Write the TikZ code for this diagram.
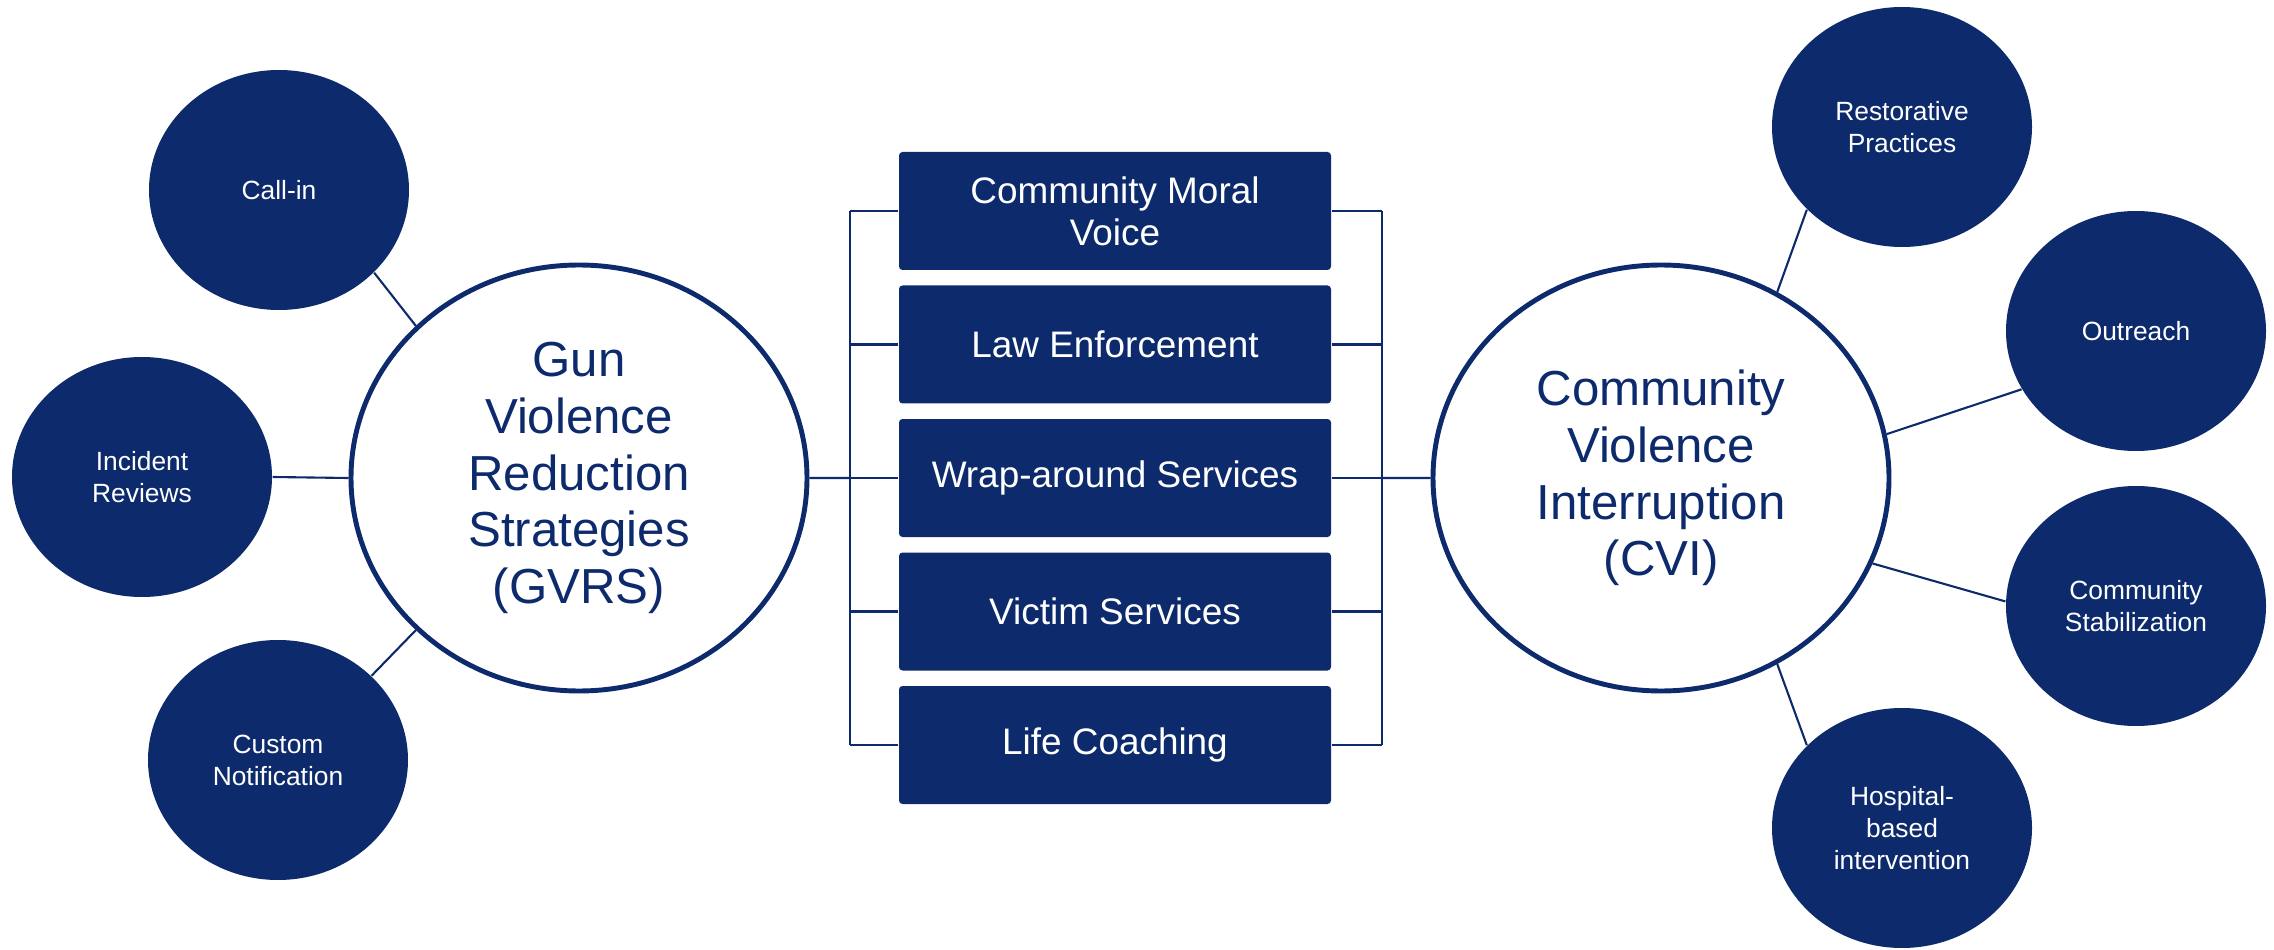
\documentclass[tikz,border=0pt]{standalone}
\usepackage{fontspec}
\setmainfont{Liberation Sans}
\usetikzlibrary{shapes.geometric}

\definecolor{navy}{RGB}{13,43,108}

\tikzset{
	hub/.style={ellipse, draw=navy, line width=1.4pt, fill=white, minimum width=4.56cm, minimum height=4.26cm, inner sep=0pt, align=center, text=navy, font=\fontsize{14}{16.1}\selectfont},
	leaf/.style={ellipse, fill=navy, minimum width=2.6cm, minimum height=2.4cm, inner sep=0pt, align=center, text=white, font=\fontsize{7.5}{9.1}\selectfont},
	block/.style={rectangle, rounded corners=1pt, fill=navy, minimum width=4.32cm, minimum height=1.18cm, inner sep=0pt, align=center, text=white, font=\fontsize{10.5}{12}\selectfont},
	link/.style={draw=navy, line width=0.6pt},
}

\begin{document}
\begin{tikzpicture}
	
	%--- Khung ---
	\useasboundingbox (0,0) rectangle (22.74,9.49);
	
	%--- Hai hình tròn lớn ---
	\node[hub] (gvrs) at (5.79,4.71) {Gun\\Violence\\Reduction\\Strategies\\(GVRS)};
	\node[hub] (cvi) at (16.61,4.71) {Community\\Violence\\Interruption\\(CVI)};
	
	%--- Bên trái ---
	\node[leaf] (callin) at (2.79,7.59) {Call-in};
	\node[leaf] (incident) at (1.42,4.72) {Incident\\Reviews};
	\node[leaf] (custom) at (2.78,1.89) {Custom\\Notification};
	
	\draw[link] (callin.-41) -- (gvrs.137);
	\draw[link] (incident.east) -- (gvrs.west);
	\draw[link] (custom.42) -- (gvrs.223);
	
	%--- Bên phải ---
	\node[leaf] (restorative) at (19.02,8.22) {Restorative\\Practices};
	\node[leaf] (outreach) at (21.36,6.18) {Outreach};
	\node[leaf] (stabilization) at (21.36,3.43) {Community\\Stabilization};
	\node[leaf] (hospital) at (19.02,1.21) {Hospital-\\based\\intervention};
	
	\draw[link] (cvi.58) -- (restorative.221);
	\draw[link] (cvi.11) -- (outreach.207);
	\draw[link] (cvi.-22) -- (stabilization.178);
	\draw[link] (cvi.-58) -- (hospital.139);
	
	%--- Các ô ở giữa ---
	\foreach \i/\txt in {1/{Community Moral\\Voice}, 2/{Law Enforcement}, 3/{Wrap-around Services}, 4/{Victim Services}, 5/{Life Coaching}} {
		\node[block] (b\i) at (11.15,{7.38-(\i-1)*1.335}) {\txt};
		\coordinate (lb\i) at ([xshift=-4.8mm]b\i.west);
		\coordinate (rb\i) at ([xshift=5mm]b\i.east);
		\draw[link] (b\i.west) -- (lb\i);
		\draw[link] (b\i.east) -- (rb\i);
	}
	
	%--- Thanh nối ---
	\draw[link] (lb1) -- (lb5);
	\draw[link] (rb1) -- (rb5);
	\draw[link] (gvrs) -- (lb3);
	\draw[link] (cvi) -- (rb3);
	
\end{tikzpicture}
\end{document}
